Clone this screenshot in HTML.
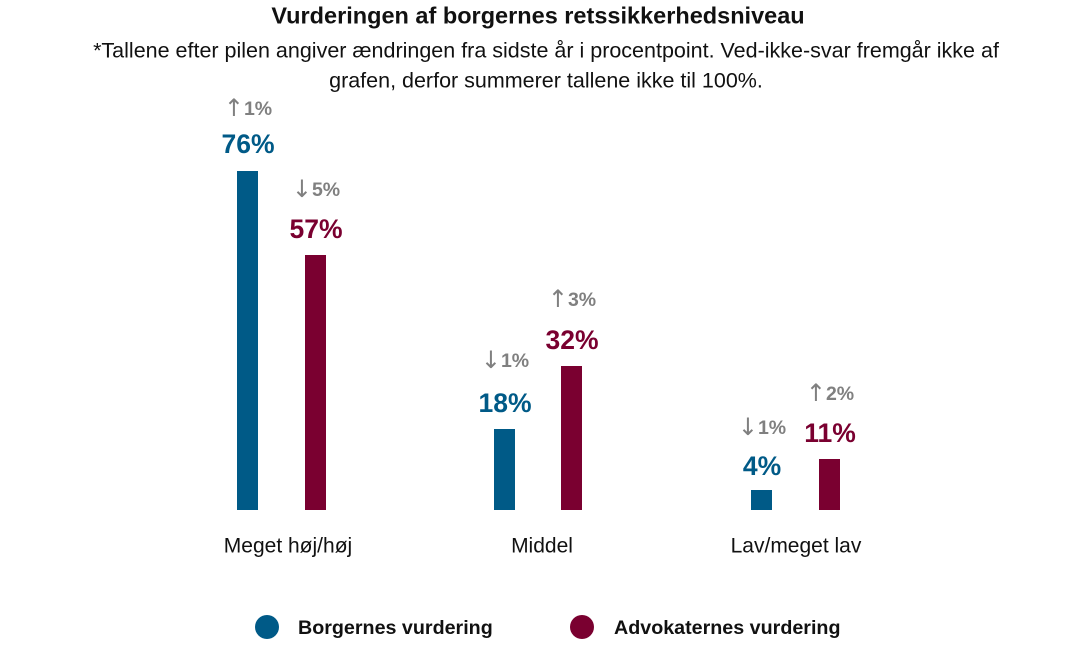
<!DOCTYPE html>
<html><head><meta charset="utf-8"><style>
body{margin:0;width:1077px;height:647px;background:#fff;position:relative;overflow:hidden;font-family:"Liberation Sans",sans-serif;}
.a{position:absolute;white-space:nowrap;transform:translate(-50%,-50%);line-height:1;}
.b{position:absolute;width:21px;}
.bl{background:#005a87}.rd{background:#7a0030}
.v{font-weight:bold;font-size:26.5px}
.c{font-weight:bold;font-size:19.5px;color:#808080}
.c span{font-family:"DejaVu Sans",sans-serif;font-size:24px;font-weight:normal;position:relative;top:1px}
.cat{font-size:21px;color:#111}
</style></head><body>
<div class="a" style="left:538px;top:16px;font-weight:bold;font-size:23.5px;color:#111">Vurderingen af borgernes retssikkerhedsniveau</div>
<div class="a" style="left:546px;top:51px;font-size:21.5px;color:#111">*Tallene efter pilen angiver ændringen fra sidste år i procentpoint. Ved-ikke-svar fremgår ikke af</div>
<div class="a" style="left:546px;top:81px;font-size:21.5px;color:#111">grafen, derfor summerer tallene ikke til 100%.</div>

<div class="b bl" style="left:237px;top:171px;height:339px"></div>
<div class="b rd" style="left:305px;top:255px;height:255px"></div>
<div class="b bl" style="left:494px;top:429px;height:81px"></div>
<div class="b rd" style="left:561px;top:366px;height:144px"></div>
<div class="b bl" style="left:751px;top:490px;height:20px"></div>
<div class="b rd" style="left:819px;top:459px;height:51px"></div>

<div class="a v" style="left:248px;top:144px;color:#005a87">76%</div>
<div class="a c" style="left:248px;top:107px"><span>↑</span>1%</div>
<div class="a v" style="left:316px;top:229px;color:#7a0030">57%</div>
<div class="a c" style="left:316px;top:188px"><span>↓</span>5%</div>
<div class="a v" style="left:505px;top:403px;color:#005a87">18%</div>
<div class="a c" style="left:505px;top:359px"><span>↓</span>1%</div>
<div class="a v" style="left:572px;top:340px;color:#7a0030">32%</div>
<div class="a c" style="left:572px;top:298px"><span>↑</span>3%</div>
<div class="a v" style="left:762px;top:466px;color:#005a87">4%</div>
<div class="a c" style="left:762px;top:426px"><span>↓</span>1%</div>
<div class="a v" style="left:830px;top:433px;color:#7a0030">11%</div>
<div class="a c" style="left:830px;top:392px"><span>↑</span>2%</div>

<div class="a cat" style="left:288px;top:546px">Meget høj/høj</div>
<div class="a cat" style="left:542px;top:546px">Middel</div>
<div class="a cat" style="left:796px;top:546px">Lav/meget lav</div>

<div style="position:absolute;left:255px;top:615px;width:24px;height:24px;border-radius:50%;background:#005a87"></div>
<div style="position:absolute;left:298px;top:617px;font-weight:bold;font-size:19.7px;color:#111;line-height:22px">Borgernes vurdering</div>
<div style="position:absolute;left:570px;top:615px;width:24px;height:24px;border-radius:50%;background:#7a0030"></div>
<div style="position:absolute;left:614px;top:617px;font-weight:bold;font-size:19.7px;color:#111;line-height:22px">Advokaternes vurdering</div>
</body></html>
